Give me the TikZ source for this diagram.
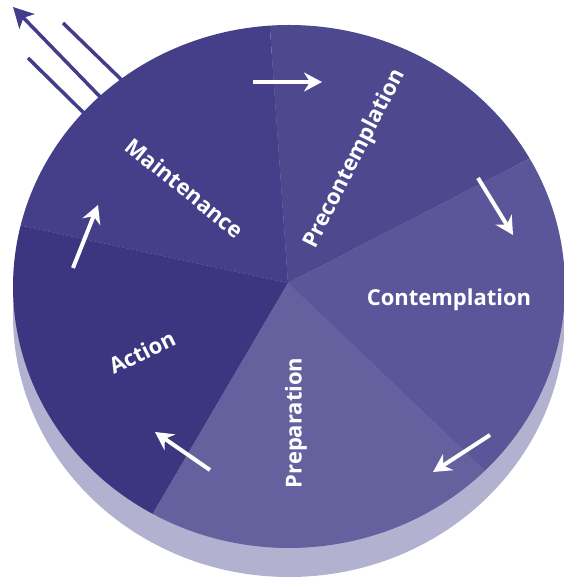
\documentclass[tikz,border=0pt]{standalone}
\usepackage{fontspec}
\usepackage{tikz}
\usetikzlibrary{arrows.meta,calc}
\setsansfont{Open Sans}

\definecolor{maintcol}{HTML}{453F89}
\definecolor{precol}{HTML}{4E498F}
\definecolor{contcol}{HTML}{5B5699}
\definecolor{prepcol}{HTML}{65619F}
\definecolor{actcol}{HTML}{3C3680}
\definecolor{shadecol}{HTML}{B2B1CF}
\definecolor{exitcol}{HTML}{433D8B}

\begin{document}
\begin{tikzpicture}[auto,
    lbl/.style={text=white, font=\sffamily\bfseries\fontsize{12.5}{14}\selectfont, inner sep=0pt},
    cyc/.style={draw=white, line width=0.8mm, -{Stealth[length=3.6mm,width=3.8mm,inset=1.2mm]}},
    exit/.style={draw=exitcol, line width=0.7mm}]

    \useasboundingbox (0,0) rectangle (11.26,11.58);

    \coordinate (o) at (5.78,5.85);
    \coordinate (m) at (5.76,5.92);

    % lines leaving the circle
    \coordinate (x1) at (2.20,9.44);
    \coordinate (y1) at (0.26,11.44);
    \coordinate (x2) at (2.64,9.78);
    \coordinate (y2) at (1.26,11.12);
    \coordinate (x3) at (1.86,9.14);
    \coordinate (y3) at (0.56,10.42);
    \draw[exit, -{Stealth[length=4mm,width=4.2mm,inset=1mm]}] (x1) -- (y1);
    \draw[exit] (x2) -- (y2);
    \draw[exit] (x3) -- (y3);

    % thickness of the disc
    \fill[shadecol] (5.78,5.27) ellipse (5.52 and 5.23);

    \foreach \s/\e/\c in {29.3/94/precol, 94/166.5/maintcol, 166.5/240.4/actcol,
                          240.4/315.2/prepcol, 315.2/389.3/contcol}
        \fill[\c] (m) -- ($(o)+(\s:5.52 and 5.23)$)
            arc[start angle=\s, end angle=\e, x radius=5.52, y radius=5.23] -- cycle;

    \node[lbl, rotate=-39] (a) at (3.70,7.82) {Maintenance};
    \node[lbl, rotate=63] (b) at (7.10,8.40) {Precontemplation};
    \node[lbl] (c) at (8.98,5.58) {Contemplation};
    \node[lbl, rotate=90] (d) at (5.92,3.12) {Preparation};
    \node[lbl, rotate=26] (e) at (2.84,4.54) {Action};

    \coordinate (a1) at (5.06,9.94);
    \coordinate (a2) at (6.44,9.94);
    \coordinate (b1) at (9.56,8.02);
    \coordinate (b2) at (10.26,6.88);
    \coordinate (c1) at (9.80,2.88);
    \coordinate (c2) at (8.66,2.14);
    \coordinate (d1) at (4.20,2.18);
    \coordinate (d2) at (3.10,2.94);
    \coordinate (e1) at (1.46,6.22);
    \coordinate (e2) at (1.96,7.48);

    \draw[cyc] (a1) -- (a2);
    \draw[cyc] (b1) -- (b2);
    \draw[cyc] (c1) -- (c2);
    \draw[cyc] (d1) -- (d2);
    \draw[cyc] (e1) -- (e2);

\end{tikzpicture}
\end{document}
